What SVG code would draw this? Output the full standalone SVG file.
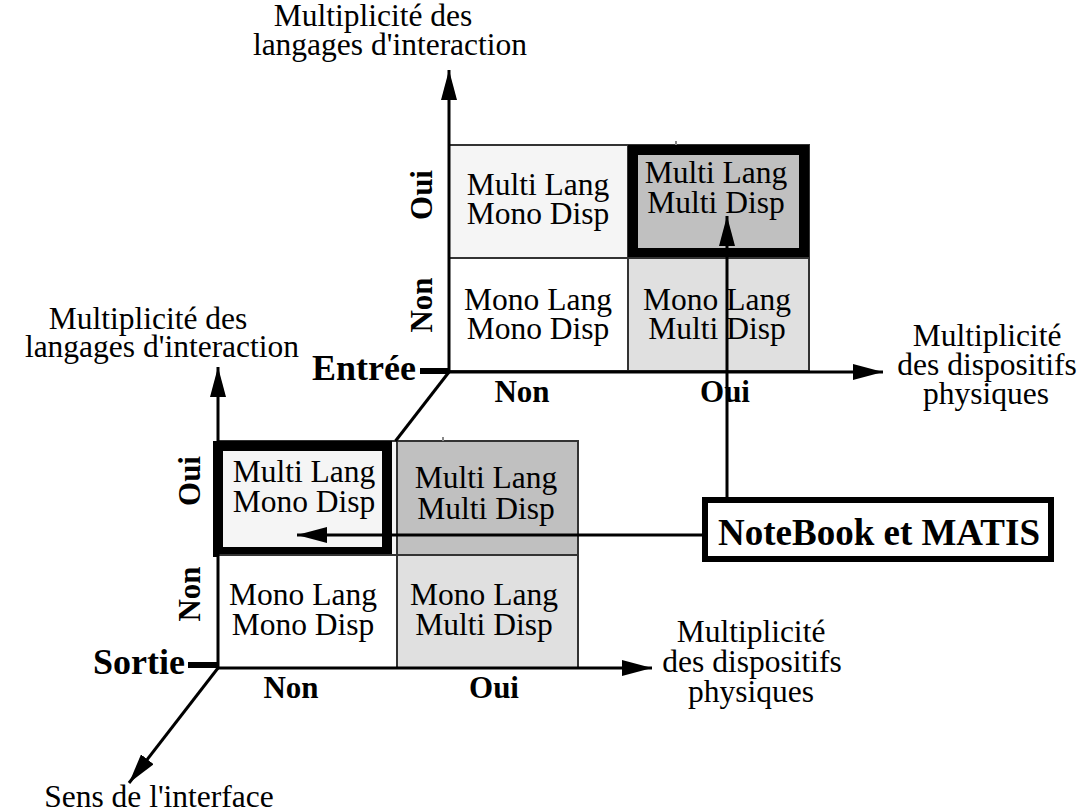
<svg xmlns="http://www.w3.org/2000/svg" width="1082" height="812" viewBox="0 0 1082 812">
<style>
text{font-family:"Liberation Serif","Times New Roman",serif;fill:#000}
.t{font-size:31.5px;text-anchor:middle}
.b{font-size:31px;font-weight:bold;text-anchor:middle}
.bb{font-size:36px;font-weight:bold}
.cell{stroke:#333;stroke-width:2}
.ax{stroke:#000;stroke-width:3;fill:none}
.thick{fill:none;stroke:#000;stroke-width:10}
</style>
<defs>
<marker id="ah" viewBox="0 0 30 16" refX="30" refY="8" markerWidth="30" markerHeight="16" markerUnits="userSpaceOnUse" orient="auto">
<path d="M0,0 L30,8 L0,16 z" fill="#000"/>
</marker>
</defs>
<rect width="1082" height="812" fill="#fff"/>

<g id="grid-entree">
<g id="e-multilang-monodisp">
<rect class="cell" x="449" y="145" width="179" height="113" fill="#f5f5f5"/>
<text class="t" x="538" y="195">Multi Lang</text>
<text class="t" x="538" y="224">Mono Disp</text>
</g>
<g id="e-multilang-multidisp">
<rect class="cell" x="628" y="145" width="181" height="113" fill="#c0c0c0"/>
<rect class="thick" x="633" y="150" width="171" height="103"/>
<text class="t" x="716" y="183">Multi Lang</text>
<text class="t" x="716" y="213">Multi Disp</text>
</g>
<g id="e-monolang-monodisp">
<rect class="cell" x="449" y="258" width="179" height="113" fill="#fff"/>
<text class="t" x="538" y="310">Mono Lang</text>
<text class="t" x="538" y="339">Mono Disp</text>
</g>
<g id="e-monolang-multidisp">
<rect class="cell" x="628" y="258" width="181" height="113" fill="#e0e0e0"/>
<text class="t" x="717" y="310">Mono Lang</text>
<text class="t" x="717" y="339">Multi Disp</text>
</g>
<line x1="676" y1="141" x2="676" y2="145" stroke="#888" stroke-width="2"/>
<text class="b" transform="translate(432,195) rotate(-90)">Oui</text>
<text class="b" transform="translate(432,305) rotate(-90)">Non</text>
<text class="b" x="522" y="402">Non</text>
<text class="b" x="725" y="402">Oui</text>
</g>

<g id="grid-sortie">
<g id="s-multilang-monodisp">
<rect class="cell" x="218" y="441" width="179" height="114" fill="#f5f5f5"/>
<rect class="thick" x="218" y="446" width="169" height="106"/>
<text class="t" x="304" y="482">Multi Lang</text>
<text class="t" x="304" y="512">Mono Disp</text>
</g>
<g id="s-multilang-multidisp">
<rect class="cell" x="397" y="441" width="181" height="114" fill="#c0c0c0"/>
<text class="t" x="486" y="488">Multi Lang</text>
<text class="t" x="486" y="519">Multi Disp</text>
</g>
<g id="s-monolang-monodisp">
<rect class="cell" x="218" y="555" width="179" height="113" fill="#fff"/>
<text class="t" x="303" y="605">Mono Lang</text>
<text class="t" x="303" y="635">Mono Disp</text>
</g>
<g id="s-monolang-multidisp">
<rect class="cell" x="397" y="555" width="181" height="113" fill="#e0e0e0"/>
<text class="t" x="484" y="605">Mono Lang</text>
<text class="t" x="484" y="635">Multi Disp</text>
</g>
<line x1="443" y1="437" x2="443" y2="441" stroke="#888" stroke-width="2"/>
<text class="b" transform="translate(200,481) rotate(-90)">Oui</text>
<text class="b" transform="translate(200,594) rotate(-90)">Non</text>
<text class="b" x="291" y="698">Non</text>
<text class="b" x="494" y="698">Oui</text>
</g>

<g id="notebook-matis">
<rect x="705" y="500" width="346" height="59" fill="#fff" stroke="#000" stroke-width="6"/>
<text class="bb" x="879" y="545" text-anchor="middle" style="font-size:37px">NoteBook et MATIS</text>
</g>

<g id="connectors">
<line class="ax" x1="449" y1="372" x2="449" y2="70" marker-end="url(#ah)"/>
<line class="ax" x1="449" y1="372" x2="883" y2="372" marker-end="url(#ah)"/>
<line class="ax" x1="449" y1="372" x2="395.5" y2="441"/>
<line class="ax" x1="218" y1="668" x2="218" y2="367" marker-end="url(#ah)"/>
<line class="ax" x1="218" y1="668" x2="652" y2="668" marker-end="url(#ah)"/>
<line class="ax" x1="218" y1="668" x2="129" y2="783" marker-end="url(#ah)"/>
<line x1="420" y1="371" x2="449" y2="371" stroke="#000" stroke-width="6"/>
<line x1="188" y1="665" x2="218" y2="665" stroke="#000" stroke-width="6"/>
<line class="ax" x1="727" y1="497" x2="727" y2="216" marker-end="url(#ah)"/>
<line class="ax" x1="702" y1="535" x2="297" y2="535" marker-end="url(#ah)"/>
</g>

<g id="labels">
<text class="t" x="373" y="26">Multiplicité des</text>
<text class="t" x="390" y="55">langages d'interaction</text>
<text class="t" x="148" y="329">Multiplicité des</text>
<text class="t" x="162" y="357">langages d'interaction</text>
<text class="t" x="987" y="346">Multiplicité</text>
<text class="t" x="987" y="375">des dispositifs</text>
<text class="t" x="986" y="404">physiques</text>
<text class="t" x="751" y="642">Multiplicité</text>
<text class="t" x="752" y="672">des dispositifs</text>
<text class="t" x="751" y="702">physiques</text>
<text class="bb" x="312" y="380">Entrée</text>
<text class="bb" x="93" y="674">Sortie</text>
<text class="t" x="159" y="807">Sens de l'interface</text>
</g>
</svg>
